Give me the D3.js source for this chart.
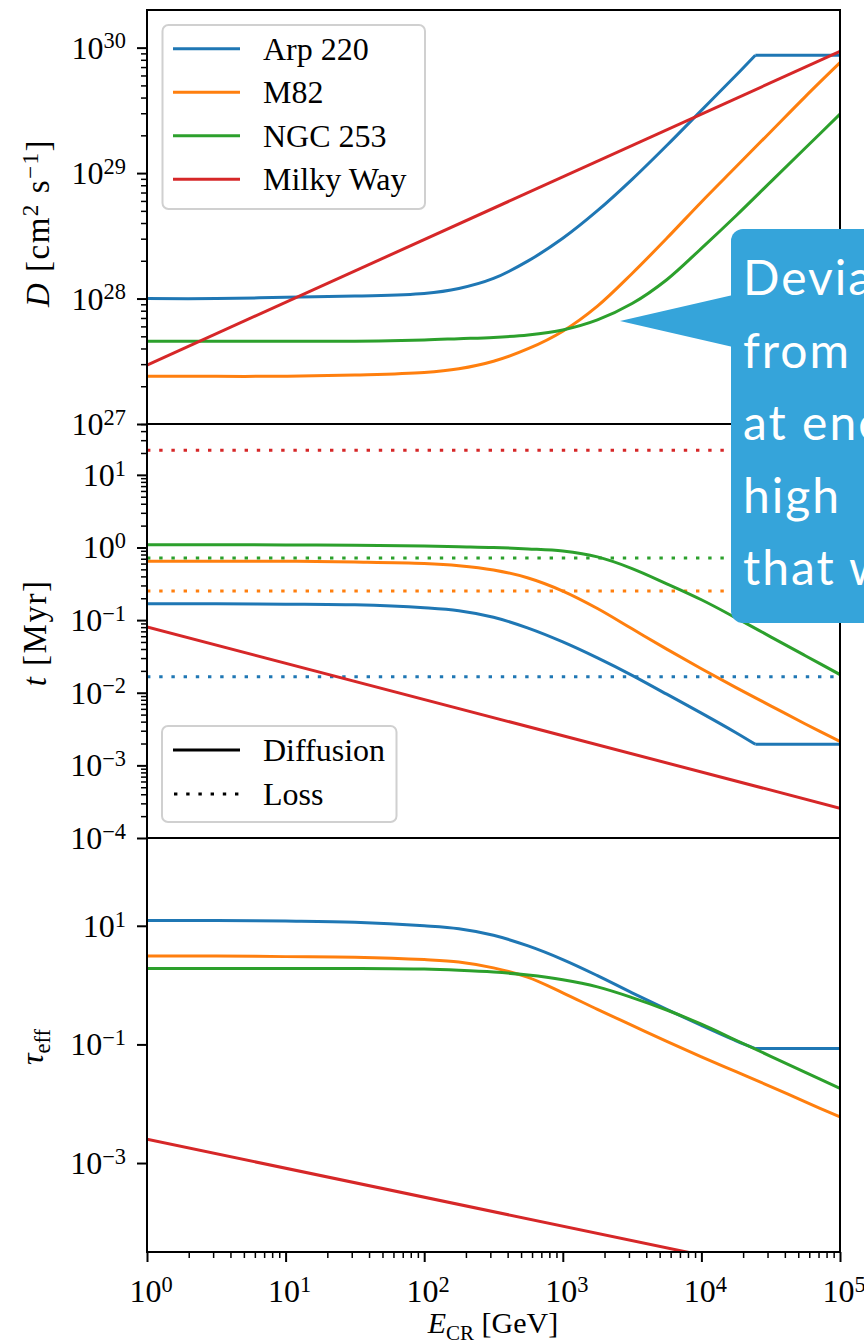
<!DOCTYPE html>
<html lang="en">
<head>
<meta charset="utf-8">
<title>CR diffusion and loss</title>
<script src="https://cdn.jsdelivr.net/npm/d3@7"></script>
<style>
    body { margin: 0; background: #fff; }
    svg text { font-family: "Liberation Serif", "DejaVu Serif", serif; fill: #000; }
</style>
</head>
<body>
<script>
// energy grid [GeV] for M82 and NGC 253
var energy = [1, 3.162, 10, 31.62, 100, 177.8, 316.2, 562.3, 1000, 1778, 3162, 5623,
              10000, 17783, 31623, 56234, 100000];
// Arp 220 grid: same up to the kink where D hits its ceiling, then flat to the end
var energyArp = [1, 3.162, 10, 31.62, 100, 177.8, 316.2, 562.3, 1000, 1778, 3162, 5623,
                 10000, 17783, 24500, 100000];
var arpKink = 14;
// straight Milky Way lines only need their end points
var energyEnds = [1, 100000];

var galaxies = ["Arp 220", "M82", "NGC 253", "Milky Way"];
var colors = ["#1f77b4", "#ff7f0e", "#2ca02c", "#d62728"];

// log10 of D [cm^2 s^-1]
var logD_arp = [28.00, 28.00, 28.01, 28.02, 28.04, 28.08, 28.16, 28.30, 28.48, 28.70, 28.95, 29.22, 29.50, 29.78, 29.94, 29.94];
var logD_m82 = [27.38, 27.38, 27.38, 27.39, 27.41, 27.44, 27.50, 27.60, 27.74, 27.94, 28.20, 28.48, 28.77, 29.05, 29.33, 29.61, 29.88];
var logD_ngc = [27.66, 27.66, 27.66, 27.66, 27.67, 27.68, 27.69, 27.71, 27.75, 27.83, 27.96, 28.15, 28.40, 28.66, 28.93, 29.20, 29.47];
var logD_mw = [27.47, 29.97];

// log10 of diffusion time [Myr]
var logT_arp = [-0.775, -0.775, -0.78, -0.79, -0.83, -0.87, -0.96, -1.11, -1.30, -1.52, -1.76, -2.02, -2.28, -2.55, -2.71, -2.71];
var logT_m82 = [-0.19, -0.19, -0.19, -0.20, -0.22, -0.25, -0.31, -0.42, -0.60, -0.84, -1.12, -1.40, -1.67, -1.93, -2.18, -2.43, -2.67];
var logT_ngc = [0.037, 0.037, 0.035, 0.03, 0.02, 0.01, 0.0, -0.02, -0.05, -0.13, -0.29, -0.50, -0.72, -0.97, -1.23, -1.49, -1.75];
var logT_mw = [-1.095, -3.59];

// log10 of loss time [Myr], flat in energy (Arp 220, M82, NGC 253, Milky Way)
var logLoss = [-1.78, -0.60, -0.146, 1.34];

// log10 of tau_eff
var logTau_arp = [1.09, 1.09, 1.08, 1.06, 1.00, 0.95, 0.84, 0.66, 0.43, 0.16, -0.13, -0.41, -0.68, -0.94, -1.07, -1.07];
var logTau_m82 = [0.49, 0.49, 0.48, 0.47, 0.43, 0.39, 0.29, 0.13, -0.13, -0.41, -0.68, -0.95, -1.21, -1.46, -1.71, -1.97, -2.22];
var logTau_ngc = [0.28, 0.28, 0.28, 0.28, 0.27, 0.25, 0.22, 0.17, 0.09, -0.03, -0.21, -0.42, -0.66, -0.93, -1.20, -1.47, -1.74];
var logTau_mw = [-2.60, -5.04];

// tick values and exponent labels
var xTicks = [1, 10, 100, 1e3, 1e4, 1e5];
var xTickExp = ["0", "1", "2", "3", "4", "5"];
var dTicks = [1e27, 1e28, 1e29, 1e30];
var dTickExp = ["27", "28", "29", "30"];
var tTicks = [1e-4, 1e-3, 1e-2, 1e-1, 1, 10];
var tTickExp = ["\u22124", "\u22123", "\u22122", "\u22121", "0", "1"];
var tauTicks = [1e-3, 1e-1, 10];
var tauTickExp = ["\u22123", "\u22121", "1"];

var calloutLines = ["Deviation", "from", "at energies", "high", "that was"];

//Width and height
var w = 864, h = 1344;
var x0 = 147, x1 = 840;

var svg = d3.select("body").append("svg").attr("width", w).attr("height", h);

var x = d3.scaleLog().domain([1, 1e5]).range([x0, x1]);
var yD = d3.scaleLog().domain([1e27, Math.pow(10, 30.3)]).range([424, 10]);
var yT = d3.scaleLog().domain([1e-4, Math.pow(10, 1.7)]).range([838, 424]);
var yTau = d3.scaleLog().domain([Math.pow(10, -4.5), Math.pow(10, 2.48)]).range([1252, 838]);

function pairs(es, logs) {
    return es.map(function(e, i) { return [e, Math.pow(10, logs[i])]; });
}

// split a series in two pieces sharing the kink point
function pieces(pts, k) {
    if (k == null) return [pts];
    return [pts.slice(0, k + 1), pts.slice(k)];
}

function minors(lo, hi) {
    var out = [];
    for (var p = Math.floor(Math.log10(lo)); p <= Math.ceil(Math.log10(hi)); p++) {
        for (var k = 2; k <= 9; k++) {
            var v = k * Math.pow(10, p);
            if (v > lo && v < hi) out.push(v);
        }
    }
    return out;
}

// text with super/subscripts, parts = [[string, style]]
function rich(sel, parts, fs) {
    var cur = 0;
    parts.forEach(function(p) {
        var st = p[1] || "";
        var target = st == "sup" ? -0.32 * fs : (st == "sub" ? 0.22 * fs : 0);
        var t = sel.append("tspan").text(p[0]).attr("dy", target - cur);
        if (st == "sup" || st == "sub") t.attr("font-size", 0.7 * fs);
        if (st == "i") t.attr("font-style", "italic");
        cur = target;
    });
}

function clip(top, bottom, id) {
    svg.append("clipPath").attr("id", id).append("rect")
        .attr("x", x0).attr("y", top).attr("width", x1 - x0).attr("height", bottom - top);
    return svg.append("g").attr("clip-path", "url(#" + id + ")");
}

function lineFor(y) {
    return d3.line().x(function(d) { return x(d[0]); }).y(function(d) { return y(d[1]); })
        .curve(d3.curveCatmullRom.alpha(0.5));
}

function drawSeries(g, line, series, i, dash) {
    var kink = (i === 0 && series.length > 2) ? arpKink : null;
    pieces(series, kink).forEach(function(p) {
        var path = g.append("path").attr("d", line(p)).attr("fill", "none")
            .attr("stroke", colors[i]).attr("stroke-width", 3)
            .attr("stroke-linejoin", "round");
        if (dash) path.attr("stroke-dasharray", dash);
    });
}

function yAxis(y, majors, exps, withMinor) {
    var g = svg.append("g").attr("transform", "translate(" + x0 + ",0)");
    if (withMinor) {
        var dom = y.domain();
        g.append("g").call(d3.axisLeft(y).tickValues(minors(dom[0], dom[1])).tickSize(6).tickFormat(""))
            .call(function(s) { s.select(".domain").remove(); s.selectAll("line").attr("stroke-width", 1.5); });
    }
    g.append("g").call(d3.axisLeft(y).tickValues(majors).tickSize(10).tickFormat(""))
        .call(function(s) { s.select(".domain").remove(); s.selectAll("line").attr("stroke-width", 2); });
    majors.forEach(function(v, i) {
        var t = svg.append("text").attr("x", 126).attr("y", y(v) + 11)
            .attr("text-anchor", "end").attr("font-size", 32);
        rich(t, [["10", ""], [exps[i], "sup"]], 32);
    });
}

// ---------- top panel: D ----------
var gD = clip(10, 424, "clipD");
var lineD = lineFor(yD);
[pairs(energyArp, logD_arp), pairs(energy, logD_m82), pairs(energy, logD_ngc), pairs(energyEnds, logD_mw)]
    .forEach(function(s, i) { drawSeries(gD, lineD, s, i); });

// ---------- middle panel: t ----------
var gT = clip(424, 838, "clipT");
var lineT = lineFor(yT);
[pairs(energyArp, logT_arp), pairs(energy, logT_m82), pairs(energy, logT_ngc), pairs(energyEnds, logT_mw)]
    .forEach(function(s, i) {
        drawSeries(gT, lineT, s, i);
        drawSeries(gT, lineT, pairs(energyEnds, [logLoss[i], logLoss[i]]), i, "3.4,8.8");
    });

// ---------- bottom panel: tau ----------
var gTau = clip(838, 1252, "clipTau");
var lineTau = lineFor(yTau);
[pairs(energyArp, logTau_arp), pairs(energy, logTau_m82), pairs(energy, logTau_ngc), pairs(energyEnds, logTau_mw)]
    .forEach(function(s, i) { drawSeries(gTau, lineTau, s, i); });

// ---------- axes ----------
yAxis(yD, dTicks, dTickExp, true);
yAxis(yT, tTicks, tTickExp, true);
yAxis(yTau, tauTicks, tauTickExp, false);

var gx = svg.append("g").attr("transform", "translate(0,1252)");
gx.append("g").call(d3.axisBottom(x).tickValues(minors(1, 1e5)).tickSize(6).tickFormat(""))
    .call(function(s) { s.select(".domain").remove(); s.selectAll("line").attr("stroke-width", 1.5); });
gx.append("g").call(d3.axisBottom(x).tickValues(xTicks).tickSize(10).tickFormat(""))
    .call(function(s) { s.select(".domain").remove(); s.selectAll("line").attr("stroke-width", 2); });
xTicks.forEach(function(v, i) {
    var t = svg.append("text").attr("x", x(v) + 4).attr("y", 1302)
        .attr("text-anchor", "middle").attr("font-size", 32);
    rich(t, [["10", ""], [xTickExp[i], "sup"]], 32);
});

// panel frames
[[10, 424], [424, 838], [838, 1252]].forEach(function(p) {
    svg.append("rect").attr("x", x0).attr("y", p[0]).attr("width", x1 - x0).attr("height", p[1] - p[0])
        .attr("fill", "none").attr("stroke", "#000").attr("stroke-width", 2);
});

// axis labels
var lab1 = svg.append("text").attr("transform", "translate(49,223) rotate(-90)")
    .attr("text-anchor", "middle").attr("font-size", 33).attr("letter-spacing", 1.5);
rich(lab1, [["D", "i"], ["  [cm", ""], ["2", "sup"], [" s", ""], ["\u22121", "sup"], ["]", ""]], 33);
var lab2 = svg.append("text").attr("transform", "translate(46,633) rotate(-90)")
    .attr("text-anchor", "middle").attr("font-size", 33).attr("letter-spacing", 1.5);
rich(lab2, [["t", "i"], ["  [Myr]", ""]], 33);
var lab3 = svg.append("text").attr("transform", "translate(43,1047) rotate(-90)")
    .attr("text-anchor", "middle").attr("font-size", 32);
rich(lab3, [["\u03c4", "i"], ["eff", "sub"]], 32);
var lab4 = svg.append("text").attr("x", 493).attr("y", 1333)
    .attr("text-anchor", "middle").attr("font-size", 30);
rich(lab4, [["E", "i"], ["CR", "sub"], [" [GeV]", ""]], 30);

// legend: galaxies
var leg1 = svg.append("g");
leg1.append("rect").attr("x", 162.5).attr("y", 25).attr("width", 262.5).attr("height", 184)
    .attr("rx", 6).attr("fill", "#fff").attr("fill-opacity", 0.8)
    .attr("stroke", "#d0d0d0").attr("stroke-width", 2);
galaxies.forEach(function(name, i) {
    var yy = 48.7 + i * 43.5;
    leg1.append("line").attr("x1", 173).attr("x2", 240).attr("y1", yy).attr("y2", yy)
        .attr("stroke", colors[i]).attr("stroke-width", 3);
    leg1.append("text").attr("x", 263).attr("y", yy + 11).attr("font-size", 32).text(name);
});

// legend: line styles
var leg2 = svg.append("g");
leg2.append("rect").attr("x", 162).attr("y", 726).attr("width", 234.5).attr("height", 96)
    .attr("rx", 6).attr("fill", "#fff").attr("fill-opacity", 0.8)
    .attr("stroke", "#d0d0d0").attr("stroke-width", 2);
leg2.append("line").attr("x1", 173).attr("x2", 240).attr("y1", 750).attr("y2", 750)
    .attr("stroke", "#000").attr("stroke-width", 3);
leg2.append("text").attr("x", 263).attr("y", 761).attr("font-size", 32).text("Diffusion");
leg2.append("line").attr("x1", 174).attr("x2", 240).attr("y1", 794).attr("y2", 794)
    .attr("stroke", "#000").attr("stroke-width", 3.2).attr("stroke-dasharray", "3.4,8.8");
leg2.append("text").attr("x", 263).attr("y", 805).attr("font-size", 32).text("Loss");

// callout overlay
var co = svg.append("g");
co.append("path")
    .attr("d", "M620,321 L733,295 L733,347 Z")
    .attr("fill", "#35a4da");
co.append("rect").attr("x", 731).attr("y", 229).attr("width", 200).attr("height", 394)
    .attr("rx", 12).attr("fill", "#35a4da");
calloutLines.forEach(function(s, i) {
    co.append("text").attr("x", 743).attr("y", 295 + i * 72.5)
        .style("font-family", "Lato, 'Open Sans', sans-serif").style("fill", "#fff")
        .attr("letter-spacing", 2).attr("font-size", 48).text(s);
});
</script>
</body>
</html>
